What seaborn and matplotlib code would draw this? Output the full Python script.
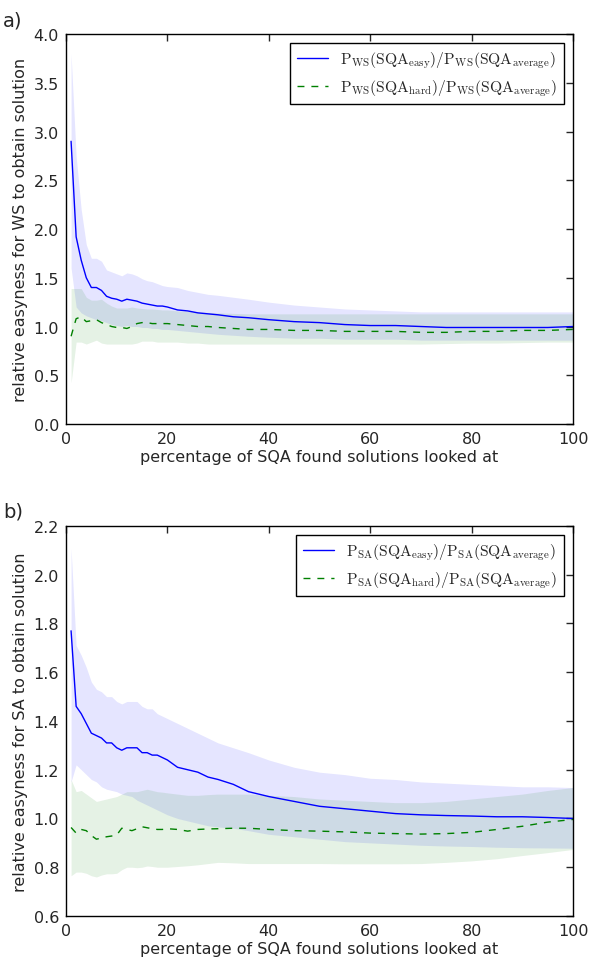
import numpy as np
import pandas as pd
import matplotlib
matplotlib.use("Agg")
import matplotlib.pyplot as plt
import seaborn as sns

# percentage of SQA found solutions looked at (sampled positions)
pct = [1, 2, 3, 4, 5, 6, 7, 8, 9, 10, 11, 12, 13, 14, 15, 16, 17, 18, 19, 20,
       22, 24, 26, 28, 30, 33, 36, 40, 45, 50, 55, 60, 65, 70, 75, 80, 85, 90, 95, 100]

# panel a) WS
ws_easy = [2.90, 1.92, 1.68, 1.50, 1.40, 1.40, 1.37, 1.31, 1.29, 1.28, 1.26, 1.28, 1.27, 1.26, 1.24, 1.23, 1.22, 1.21, 1.21, 1.20,
           1.17, 1.16, 1.14, 1.13, 1.12, 1.10, 1.09, 1.07, 1.05, 1.04, 1.02, 1.01, 1.01, 1.00, 0.99, 0.99, 0.99, 0.99, 0.99, 1.00]
ws_easy_hi = [3.80, 2.75, 2.20, 1.84, 1.70, 1.70, 1.67, 1.58, 1.56, 1.54, 1.52, 1.55, 1.54, 1.52, 1.49, 1.47, 1.46, 1.44, 1.42, 1.41,
              1.40, 1.37, 1.35, 1.33, 1.32, 1.30, 1.28, 1.25, 1.22, 1.20, 1.18, 1.17, 1.16, 1.15, 1.15, 1.15, 1.15, 1.15, 1.15, 1.15]
ws_easy_lo = [1.60, 1.20, 1.14, 1.11, 1.09, 1.07, 1.06, 1.04, 1.02, 1.01, 1.00, 1.01, 1.00, 1.00, 0.99, 0.99, 0.98, 0.98, 0.97, 0.97,
              0.96, 0.95, 0.94, 0.93, 0.92, 0.91, 0.90, 0.89, 0.88, 0.88, 0.87, 0.87, 0.87, 0.86, 0.86, 0.86, 0.86, 0.86, 0.86, 0.86]
ws_hard = [0.90, 1.08, 1.10, 1.05, 1.06, 1.07, 1.04, 1.02, 1.00, 0.99, 0.99, 0.98, 1.00, 1.03, 1.04, 1.04, 1.03, 1.03, 1.03, 1.03,
           1.02, 1.01, 1.00, 1.00, 0.99, 0.98, 0.97, 0.97, 0.96, 0.96, 0.95, 0.95, 0.95, 0.94, 0.94, 0.95, 0.95, 0.96, 0.96, 0.97]
ws_hard_hi = [1.39, 1.39, 1.39, 1.30, 1.27, 1.27, 1.28, 1.24, 1.21, 1.19, 1.19, 1.19, 1.20, 1.19, 1.185, 1.18, 1.18, 1.175, 1.17, 1.17,
              1.16, 1.155, 1.15, 1.145, 1.14, 1.135, 1.13, 1.13, 1.13, 1.13, 1.13, 1.13, 1.13, 1.13, 1.13, 1.13, 1.13, 1.13, 1.13, 1.13]
ws_hard_lo = [0.42, 0.84, 0.84, 0.82, 0.84, 0.86, 0.83, 0.82, 0.82, 0.82, 0.82, 0.82, 0.82, 0.83, 0.85, 0.85, 0.85, 0.84, 0.84, 0.84,
              0.84, 0.83, 0.83, 0.82, 0.82, 0.82, 0.82, 0.82, 0.82, 0.82, 0.82, 0.82, 0.82, 0.82, 0.825, 0.83, 0.83, 0.835, 0.84, 0.84]

# panel b) SA
sa_easy = [1.77, 1.46, 1.43, 1.39, 1.35, 1.34, 1.33, 1.31, 1.31, 1.29, 1.28, 1.29, 1.29, 1.29, 1.27, 1.27, 1.26, 1.26, 1.25, 1.24,
           1.21, 1.20, 1.19, 1.17, 1.16, 1.14, 1.11, 1.09, 1.07, 1.05, 1.04, 1.03, 1.02, 1.015, 1.012, 1.01, 1.007, 1.007, 1.004, 1.00]
sa_easy_hi = [2.11, 1.71, 1.67, 1.62, 1.56, 1.53, 1.52, 1.50, 1.50, 1.48, 1.47, 1.48, 1.48, 1.48, 1.46, 1.45, 1.45, 1.43, 1.42, 1.41,
              1.39, 1.37, 1.35, 1.33, 1.31, 1.29, 1.27, 1.24, 1.21, 1.19, 1.18, 1.165, 1.16, 1.15, 1.145, 1.14, 1.135, 1.13, 1.13, 1.127]
sa_easy_lo = [1.15, 1.22, 1.20, 1.18, 1.16, 1.15, 1.13, 1.12, 1.115, 1.11, 1.10, 1.095, 1.09, 1.075, 1.065, 1.055, 1.045, 1.035, 1.025, 1.015,
              1.00, 0.99, 0.98, 0.97, 0.965, 0.96, 0.95, 0.935, 0.925, 0.915, 0.905, 0.90, 0.895, 0.89, 0.887, 0.885, 0.882, 0.88, 0.879, 0.878]
sa_hard = [0.963, 0.94, 0.955, 0.95, 0.93, 0.915, 0.92, 0.925, 0.928, 0.932, 0.96, 0.955, 0.95, 0.958, 0.966, 0.962, 0.958, 0.955, 0.955, 0.958,
           0.955, 0.948, 0.955, 0.957, 0.958, 0.96, 0.96, 0.955, 0.95, 0.948, 0.945, 0.94, 0.938, 0.936, 0.938, 0.943, 0.955, 0.968, 0.985, 0.996]
sa_hard_hi = [1.16, 1.11, 1.115, 1.10, 1.085, 1.07, 1.075, 1.08, 1.085, 1.09, 1.10, 1.11, 1.11, 1.11, 1.115, 1.12, 1.115, 1.11, 1.108, 1.105,
              1.10, 1.095, 1.095, 1.098, 1.10, 1.10, 1.10, 1.095, 1.09, 1.08, 1.075, 1.07, 1.065, 1.065, 1.07, 1.08, 1.09, 1.10, 1.115, 1.127]
sa_hard_lo = [0.765, 0.78, 0.78, 0.775, 0.765, 0.76, 0.768, 0.773, 0.773, 0.775, 0.79, 0.80, 0.80, 0.798, 0.80, 0.805, 0.803, 0.80, 0.80, 0.80,
              0.803, 0.806, 0.81, 0.815, 0.82, 0.818, 0.815, 0.815, 0.815, 0.815, 0.814, 0.814, 0.814, 0.815, 0.82, 0.826, 0.835, 0.848, 0.86, 0.873]

sns.set_style("white")
plt.rcParams.update({
    "font.family": ["DejaVu Sans"],
    "mathtext.fontset": "cm",
    "xtick.direction": "in",
    "ytick.direction": "in",
    "xtick.top": True,
    "ytick.right": True,
    "xtick.major.size": 5,
    "ytick.major.size": 5,
    "xtick.major.width": 1,
    "ytick.major.width": 1,
    "xtick.major.pad": 5,
    "ytick.major.pad": 5,
    "axes.edgecolor": "black",
    "axes.linewidth": 1.0,
    "font.size": 11.5,
})


def draw_panel(ax, df, tag, ylim, yticks, ylabel):
    ax.fill_between(df["pct"], df["easy_lo"], df["easy_hi"], color="b", alpha=0.1, lw=0)
    ax.fill_between(df["pct"], df["hard_lo"], df["hard_hi"], color="g", alpha=0.1, lw=0)
    sns.lineplot(data=df, x="pct", y="easy", ax=ax, color="b", lw=1.0,
                 label=rf"$\mathrm{{P_{{{tag}}}(SQA_{{easy}})/P_{{{tag}}}(SQA_{{average}})}}$")
    sns.lineplot(data=df, x="pct", y="hard", ax=ax, color="g", lw=1.0, linestyle=(0, (5, 5)),
                 label=rf"$\mathrm{{P_{{{tag}}}(SQA_{{hard}})/P_{{{tag}}}(SQA_{{average}})}}$")
    ax.set_xlim(0, 100)
    ax.set_ylim(*ylim)
    ax.set_yticks(yticks)
    ax.set_yticklabels([f"{t:.1f}" for t in yticks])
    ax.set_xticks([0, 20, 40, 60, 80, 100])
    ax.set_xlabel("percentage of SQA found solutions looked at", fontsize=11.5, labelpad=2)
    ax.set_ylabel(ylabel, fontsize=11.5)
    leg = ax.legend(loc="upper right", fontsize=11.2, frameon=True, fancybox=False,
                    edgecolor="black", framealpha=1, borderaxespad=0.6, handlelength=2.0,
                    labelspacing=0.45)
    leg.get_frame().set_linewidth(1.0)


ws_df = pd.DataFrame({"pct": pct, "easy": ws_easy, "easy_hi": ws_easy_hi, "easy_lo": ws_easy_lo,
                      "hard": ws_hard, "hard_hi": ws_hard_hi, "hard_lo": ws_hard_lo})
sa_df = pd.DataFrame({"pct": pct, "easy": sa_easy, "easy_hi": sa_easy_hi, "easy_lo": sa_easy_lo,
                      "hard": sa_hard, "hard_hi": sa_hard_hi, "hard_lo": sa_hard_lo})

fig = plt.figure(figsize=(6, 9.62), dpi=100)
ax1 = fig.add_axes([0.11, 0.5582, 0.845, 0.4054])
ax2 = fig.add_axes([0.11, 0.0468, 0.845, 0.4054])

draw_panel(ax1, ws_df, "WS", (0, 4), np.arange(0, 4.01, 0.5),
           "relative easyness for WS to obtain solution")
draw_panel(ax2, sa_df, "SA", (0.6, 2.2), np.arange(0.6, 2.21, 0.2),
           "relative easyness for SA to obtain solution")

fig.text(0.005, 0.988, "a)", fontsize=14, va="top", ha="left")
fig.text(0.005, 0.478, "b)", fontsize=14, va="top", ha="left")

fig.savefig("out.png", dpi=100)
